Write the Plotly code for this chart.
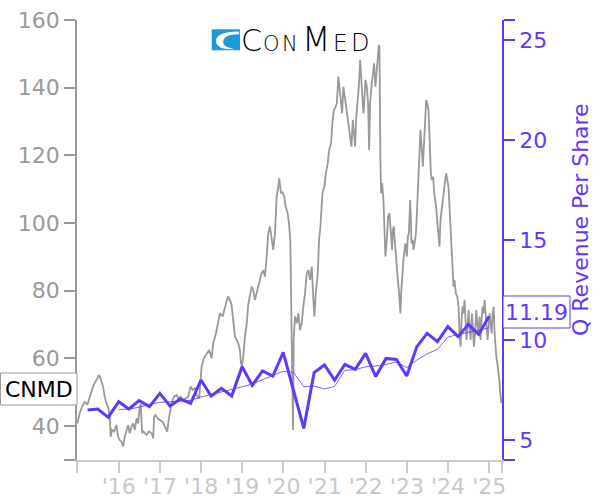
import pandas as pd
import plotly.graph_objects as go

# ---------------- data ----------------
# CNMD share price: decimal-year dates and closing prices (USD)
PRICE_YEARS = [
    2014.995, 2015.051, 2015.107, 2015.173, 2015.238, 2015.294, 2015.336, 2015.375, 2015.433, 2015.482,
    2015.513, 2015.545, 2015.579, 2015.618, 2015.659, 2015.701, 2015.740, 2015.781, 2015.805, 2015.837,
    2015.886, 2015.944, 2015.983, 2016.024, 2016.066, 2016.105, 2016.146, 2016.187, 2016.226, 2016.268,
    2016.309, 2016.348, 2016.389, 2016.431, 2016.470, 2016.511, 2016.535, 2016.567, 2016.601, 2016.633,
    2016.674, 2016.730, 2016.796, 2016.835, 2016.859, 2016.893, 2016.942, 2016.998, 2017.063, 2017.119,
    2017.175, 2017.224, 2017.282, 2017.338, 2017.404, 2017.443, 2017.501, 2017.564, 2017.630, 2017.686,
    2017.745, 2017.793, 2017.849, 2017.891, 2017.954, 2018.012, 2018.068, 2018.134, 2018.197, 2018.256,
    2018.294, 2018.360, 2018.416, 2018.457, 2018.523, 2018.579, 2018.620, 2018.659, 2018.701, 2018.742,
    2018.781, 2018.822, 2018.864, 2018.903, 2018.944, 2018.968, 2018.993, 2019.024, 2019.066, 2019.107,
    2019.146, 2019.187, 2019.229, 2019.268, 2019.309, 2019.350, 2019.389, 2019.431, 2019.472, 2019.511,
    2019.552, 2019.594, 2019.633, 2019.674, 2019.715, 2019.754, 2019.796, 2019.837, 2019.876, 2019.900,
    2019.942, 2019.973, 2020.022, 2020.056, 2020.105, 2020.136, 2020.168, 2020.185, 2020.202, 2020.217,
    2020.234, 2020.251, 2020.282, 2020.324, 2020.363, 2020.404, 2020.445, 2020.484, 2020.526, 2020.567,
    2020.606, 2020.647, 2020.689, 2020.728, 2020.752, 2020.786, 2020.835, 2020.866, 2020.898, 2020.947,
    2020.995, 2021.029, 2021.078, 2021.110, 2021.158, 2021.190, 2021.224, 2021.256, 2021.297, 2021.336,
    2021.360, 2021.394, 2021.426, 2021.457, 2021.492, 2021.523, 2021.555, 2021.589, 2021.620, 2021.652,
    2021.686, 2021.718, 2021.742, 2021.766, 2021.798, 2021.832, 2021.864, 2021.888, 2021.912, 2021.944,
    2021.968, 2021.993, 2022.027, 2022.058, 2022.083, 2022.107, 2022.139, 2022.173, 2022.204, 2022.236,
    2022.270, 2022.302, 2022.319, 2022.333, 2022.341, 2022.358, 2022.375, 2022.399, 2022.431, 2022.455,
    2022.479, 2022.513, 2022.545, 2022.577, 2022.601, 2022.625, 2022.642, 2022.659, 2022.684, 2022.698,
    2022.723, 2022.757, 2022.781, 2022.805, 2022.820, 2022.844, 2022.861, 2022.886, 2022.917, 2022.942,
    2022.966, 2023.000, 2023.024, 2023.049, 2023.080, 2023.097, 2023.112, 2023.146, 2023.161, 2023.202,
    2023.226, 2023.251, 2023.282, 2023.316, 2023.331, 2023.348, 2023.365, 2023.389, 2023.414, 2023.445,
    2023.470, 2023.494, 2023.526, 2023.543, 2023.560, 2023.584, 2023.608, 2023.640, 2023.664, 2023.689,
    2023.713, 2023.737, 2023.769, 2023.793, 2023.818, 2023.852, 2023.891, 2023.932, 2023.956, 2023.988,
    2024.012, 2024.037, 2024.061, 2024.085, 2024.110, 2024.134, 2024.158, 2024.192, 2024.224, 2024.256,
    2024.280, 2024.304, 2024.329, 2024.353, 2024.377, 2024.402, 2024.426, 2024.450, 2024.475, 2024.499,
    2024.523, 2024.548, 2024.582, 2024.606, 2024.630, 2024.662, 2024.686, 2024.711, 2024.742, 2024.766,
    2024.791, 2024.815, 2024.839, 2024.864, 2024.888, 2024.912, 2024.937, 2024.961, 2024.985, 2025.010,
    2025.034, 2025.058, 2025.083, 2025.107, 2025.131, 2025.148, 2025.173, 2025.197, 2025.221, 2025.246,
    2025.270, 2025.294,
]
PRICES = [
    40.8, 43.8, 45.8, 47.2, 46.3, 48.7, 50.7, 51.7, 53.2, 54.1,
    55.1, 54.6, 53.2, 51.7, 48.7, 46.7, 45.8, 42.8, 36.9, 38.9,
    38.4, 40.3, 36.9, 35.9, 35.4, 34.0, 36.9, 38.9, 40.3, 37.9,
    39.9, 40.8, 38.9, 42.3, 40.8, 45.8, 46.5, 37.9, 38.4, 37.9,
    37.4, 38.4, 37.9, 36.4, 42.8, 43.3, 42.3, 41.8, 41.3, 39.9,
    38.4, 42.8, 46.8, 48.7, 49.2, 48.2, 48.7, 47.7, 48.2, 48.7,
    51.7, 50.7, 51.2, 49.2, 48.2, 57.6, 60.1, 61.5, 62.5, 60.1,
    64.5, 67.4, 70.4, 73.3, 72.4, 75.3, 76.8, 78.3, 77.3, 75.8,
    71.4, 66.5, 65.5, 64.5, 62.5, 58.6, 57.6, 60.5, 66.5, 70.0,
    76.0, 78.3, 81.2, 80.2, 77.3, 79.3, 81.2, 83.2, 85.2, 86.1,
    84.2, 90.1, 97.0, 99.0, 95.0, 92.1, 97.0, 107.8, 110.8, 113.2,
    108.8, 109.3, 107.8, 104.9, 102.9, 99.9, 95.0, 75.3, 60.5, 45.8,
    38.9, 65.5, 72.4, 70.4, 73.3, 68.4, 70.4, 75.3, 79.3, 85.2,
    86.1, 83.2, 87.1, 77.3, 72.4, 79.3, 85.2, 95.0, 98.9, 108.8,
    110.8, 114.7, 117.7, 121.6, 123.6, 129.5, 133.4, 134.0, 135.4, 143.3,
    140.3, 137.4, 132.4, 140.3, 137.4, 135.4, 131.4, 128.5, 125.5, 122.6,
    130.5, 126.5, 122.6, 130.5, 134.4, 140.3, 148.2, 144.2, 140.3, 132.4,
    136.4, 142.3, 140.3, 135.4, 121.6, 135.4, 140.3, 144.2, 147.2, 140.3,
    145.2, 151.1, 152.6, 152.1, 135.0, 118.0, 108.8, 111.8, 106.8, 97.0,
    90.1, 95.0, 101.9, 102.9, 98.9, 95.0, 92.1, 98.0, 99.0, 96.0,
    91.1, 87.1, 83.2, 80.2, 76.3, 73.3, 79.3, 85.2, 89.1, 92.1,
    94.0, 90.1, 96.0, 97.0, 106.8, 101.9, 94.0, 95.0, 92.1, 95.0,
    98.0, 104.8, 112.7, 122.6, 127.5, 124.5, 119.6, 116.7, 122.6, 132.4,
    136.4, 135.4, 133.4, 128.5, 122.6, 114.7, 112.7, 113.7, 108.8, 106.8,
    104.8, 100.9, 97.0, 93.0, 100.9, 104.8, 109.8, 112.7, 114.7, 112.7,
    110.8, 104.8, 99.0, 93.0, 87.1, 81.2, 83.2, 79.2, 78.3, 75.3,
    67.4, 63.5, 71.4, 75.3, 73.3, 77.3, 71.4, 65.5, 69.4, 74.3,
    69.4, 65.5, 73.3, 67.4, 63.5, 68.4, 74.3, 70.4, 67.4, 72.4,
    65.5, 71.4, 75.3, 73.3, 77.3, 73.3, 68.4, 65.5, 69.4, 73.3,
    70.4, 67.4, 73.3, 75.3, 67.4, 63.5, 60.5, 58.6, 56.6, 53.6,
    49.7, 46.8,
]

# Quarterly revenue per share (Q1 2015 .. Q4 2024)
QUARTER_DATES = [
    "2015-03-31", "2015-06-30", "2015-09-30", "2015-12-31",
    "2016-03-31", "2016-06-30", "2016-09-30", "2016-12-31",
    "2017-03-31", "2017-06-30", "2017-09-30", "2017-12-31",
    "2018-03-31", "2018-06-30", "2018-09-30", "2018-12-31",
    "2019-03-31", "2019-06-30", "2019-09-30", "2019-12-31",
    "2020-03-31", "2020-06-30", "2020-09-30", "2020-12-31",
    "2021-03-31", "2021-06-30", "2021-09-30", "2021-12-31",
    "2022-03-31", "2022-06-30", "2022-09-30", "2022-12-31",
    "2023-03-31", "2023-06-30", "2023-09-30", "2023-12-31",
    "2024-03-31", "2024-06-30", "2024-09-30", "2024-12-31",
]
REV_PER_SHARE = [
    6.50, 6.55, 6.13, 6.92, 6.55, 6.97, 6.67, 7.33, 6.70, 7.05,
    6.83, 8.00, 7.20, 7.58, 7.20, 8.67, 7.73, 8.45, 8.20, 9.38,
    7.48, 5.58, 8.37, 8.75, 8.00, 8.78, 8.53, 9.33, 8.17, 9.08,
    9.03, 8.20, 9.67, 10.33, 9.92, 10.67, 10.17, 10.78, 10.28, 11.19,
]
# Thin line: trailing four-quarter average (starts at Q4 2015)
AVG_DATES = QUARTER_DATES[3:]
AVG_REV_PER_SHARE = [
    6.53, 6.54, 6.64, 6.78, 6.88, 6.92, 6.94, 6.98, 7.15, 7.27,
    7.40, 7.50, 7.66, 7.80, 8.01, 8.26, 8.44, 8.38, 7.66, 7.70,
    7.55, 7.68, 8.48, 8.52, 8.66, 8.70, 8.78, 8.90, 8.62, 9.00,
    9.31, 9.53, 10.15, 10.27, 10.39, 10.48, 10.61,
]

YEAR_TICKS = list(range(2016, 2026))
YEAR_LABELS = ["'16", "'17", "'18", "'19", "'20", "'21", "'22", "'23", "'24", "'25"]
PRICE_TICKS = [40, 60, 80, 100, 120, 140, 160]
REV_TICKS = [5, 10, 15, 20, 25]
TICKER = "CNMD"
LAST_REV_LABEL = "11.19"

# ---------------- styling ----------------
W, H = 600, 500
PL, PR, PT, PB = 77, 502, 20, 460   # plot-area edges in pixels
ML, MT = PL, PT
pw, ph = PR - PL, PB - PT
MR = W - ML - pw
MB = H - MT - ph
PURPLE = "#6236FF"
GRAY = "#999999"
LIGHT = "#cccccc"
FONT = "DejaVu Sans"


def yr_to_date(y):
    year = int(y)
    start = pd.Timestamp(year, 1, 1)
    end = pd.Timestamp(year + 1, 1, 1)
    return start + (end - start) * (y - year)


price_dates = [yr_to_date(v) for v in PRICE_YEARS]
x_start = yr_to_date(2014.985)
x_end = yr_to_date(2025.311)


def px(x):
    return (x - PL) / pw


def py(y):
    return (PB - y) / ph


fig = go.Figure()
fig.add_trace(go.Scatter(x=price_dates, y=PRICES, mode="lines",
                         line=dict(color=GRAY, width=1.8), yaxis="y", hoverinfo="skip"))
fig.add_trace(go.Scatter(x=AVG_DATES, y=AVG_REV_PER_SHARE, mode="lines",
                         line=dict(color=PURPLE, width=0.8), yaxis="y2", hoverinfo="skip"))
fig.add_trace(go.Scatter(x=QUARTER_DATES, y=REV_PER_SHARE, mode="lines",
                         line=dict(color=PURPLE, width=3), yaxis="y2", hoverinfo="skip"))

x_tickvals = [x_start] + [pd.Timestamp(y, 1, 1) for y in YEAR_TICKS] + [x_end]
x_ticktext = [""] + YEAR_LABELS + [""]

common = dict(automargin=False, ticks="outside", ticklen=11, tickwidth=1.5, showline=True,
              linewidth=1.5, showgrid=False, zeroline=False, ticklabeloverflow="allow")

fig.update_layout(
    width=W, height=H,
    margin=dict(l=ML, r=MR, t=MT, b=MB, autoexpand=False),
    paper_bgcolor="white", plot_bgcolor="white",
    showlegend=False,
    font=dict(family=FONT, size=22),
    xaxis=dict(type="date", range=[x_start, x_end], tickvals=x_tickvals, ticktext=x_ticktext,
               tickcolor=LIGHT, linecolor=LIGHT, ticklabelstandoff=-5,
               tickfont=dict(color="#c8c8c8", size=22, family=FONT), **common),
    yaxis=dict(range=[30, 160], tickvals=[30] + PRICE_TICKS, ticktext=[""] + [str(v) for v in PRICE_TICKS],
               tickcolor=GRAY, linecolor=GRAY,
               tickfont=dict(color=GRAY, size=22, family=FONT), **common),
    yaxis2=dict(range=[4, 26], overlaying="y", side="right", anchor="x",
                tickvals=[4] + REV_TICKS + [26], ticktext=[""] + [str(v) for v in REV_TICKS] + [""],
                tickcolor=PURPLE, linecolor=PURPLE,
                tickfont=dict(color=PURPLE, size=22, family=FONT), **common),
)

# Logo: white backing, blue square with white swoosh, and wordmark text
lx0, ly0, lw, lh = 211.7, 29.3, 28.3, 21.0


def lp(u, v):
    return f"{px(lx0 + u * lw):.5f},{py(ly0 + v * lh):.5f}"


swoosh = ("M " + lp(0.97, 0.10) + " Q " + lp(0.10, 0.10) + " " + lp(0.15, 0.62) +
          " Q " + lp(0.22, 1.0) + " " + lp(0.80, 0.95) + " L " + lp(0.55, 0.84) +
          " Q " + lp(0.36, 0.72) + " " + lp(0.42, 0.48) + " Q " + lp(0.52, 0.24) + " " + lp(0.97, 0.24) + " Z")

fig.update_layout(shapes=[
    # logo backing + mark
    dict(type="rect", xref="paper", yref="paper", x0=px(205), x1=px(376), y0=py(54), y1=py(25),
         fillcolor="white", line=dict(width=0), layer="above"),
    dict(type="rect", xref="paper", yref="paper", x0=px(lx0), x1=px(lx0 + lw), y0=py(ly0 + lh), y1=py(ly0),
         fillcolor="#1a9bd7", line=dict(width=0), layer="above"),
    dict(type="path", xref="paper", yref="paper", path=swoosh,
         fillcolor="white", line=dict(width=0), layer="above"),
    # ticker label box (left) and last-value box (right)
    dict(type="rect", xref="paper", yref="paper", x0=px(0.5), x1=px(77), y0=py(405), y1=py(373),
         fillcolor="white", line=dict(color=GRAY, width=1), layer="above"),
    dict(type="rect", xref="paper", yref="paper", x0=px(503), x1=px(570), y0=py(328), y1=py(296),
         fillcolor="white", line=dict(color=PURPLE, width=1), layer="above"),
])

# Wordmark letters: (letter, centre x px, font size); common baseline at y=52 px
LOGO_LETTERS = [("C", 251.7, 30), ("O", 271.5, 21), ("N", 290.0, 21),
                ("M", 316.0, 33), ("E", 340.0, 23), ("D", 360.0, 24)]
BASELINE = 52.0
for ch, cx, fs in LOGO_LETTERS:
    fig.add_annotation(xref="paper", yref="paper", x=px(cx), y=py(BASELINE + 0.236 * fs + 1),
                       xanchor="center", yanchor="bottom", text=ch, showarrow=False,
                       font=dict(family=FONT, size=fs, color="black", weight=200))

# Ticker label text (left) and last revenue-per-share text (right)
fig.add_annotation(xref="paper", yref="paper", x=px(38.7), y=py(389), xanchor="center", yanchor="middle",
                   text=TICKER, showarrow=False, font=dict(family=FONT, size=22, color="black"))
fig.add_annotation(xref="paper", yref="paper", x=px(536.5), y=py(312), xanchor="center", yanchor="middle",
                   text=LAST_REV_LABEL, showarrow=False, font=dict(family=FONT, size=22, color=PURPLE))
# Right axis title
fig.add_annotation(xref="paper", yref="paper", x=px(580), y=py(220), xanchor="center", yanchor="middle",
                   text="Q Revenue Per Share", textangle=-90, showarrow=False,
                   font=dict(family=FONT, size=22, color=PURPLE))

fig.write_html("out.html", config={"displayModeBar": False},
               post_script="document.body.style.margin='0';")
